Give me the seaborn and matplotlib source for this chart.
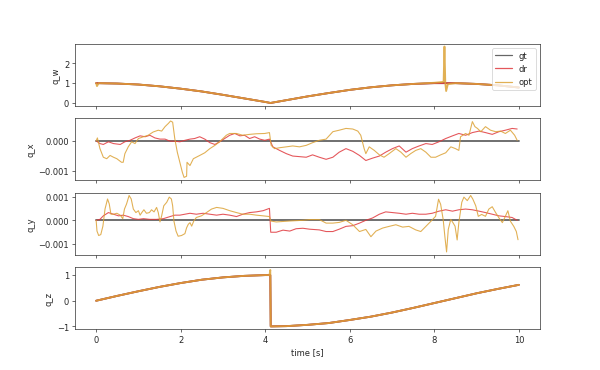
import matplotlib
matplotlib.use('Agg')
import matplotlib.pyplot as plt
import seaborn as sns
import numpy as np

sns.set_style('ticks')

t_wz = [0, 0.5, 1, 1.5, 2, 2.5, 3, 3.5, 4, 4.12, 4.13, 4.5, 5, 5.5, 6, 6.5, 7, 7.5, 8, 8.5, 9, 9.5, 10]
gt_w = [1.0, 0.98, 0.93, 0.84, 0.72, 0.58, 0.41, 0.23, 0.05, 0.0, 0.0, 0.14, 0.33, 0.5, 0.66, 0.79, 0.89, 0.96, 1.0, 1.0, 0.96, 0.89, 0.78]
gt_z = [0.0, 0.19, 0.37, 0.54, 0.69, 0.82, 0.91, 0.97, 1.0, 1.0, -1.0, -0.99, -0.94, -0.87, -0.75, -0.62, -0.46, -0.28, -0.09, 0.10, 0.29, 0.46, 0.62]
t_xy_gt = [0, 10]
gt_x = [0.0, 0.0]
gt_y = [0.0, 0.0]

# dead reckoning
dr_w = gt_w
dr_z = gt_z
t_dr_x = [0, 0.09, 0.17, 0.29, 0.41, 0.57, 0.68, 0.8, 0.92, 1.04, 1.16, 1.27, 1.39, 1.51, 1.63, 1.75,
          1.86, 1.98, 2.1, 2.22, 2.33, 2.45, 2.57, 2.69, 2.81, 2.92, 3.04, 3.16, 3.28, 3.4, 3.51, 3.63,
          3.75, 3.87, 3.99, 4.1, 4.18, 4.34, 4.5, 4.65, 4.81, 4.97, 5.12, 5.28, 5.44, 5.6, 5.75, 5.91,
          6.07, 6.23, 6.38, 6.54, 6.7, 6.85, 7.01, 7.17, 7.33, 7.48, 7.64, 7.8, 7.95, 8.11, 8.27, 8.43,
          8.58, 8.74, 8.9, 9.06, 9.21, 9.37, 9.53, 9.68, 9.84, 9.96]
dr_x = [0, -0.09, -0.12, -0.03, -0.09, -0.12, -0.03, 0.02, 0.1, 0.17, 0.14, 0.19, 0.1, 0.06, 0.06, -0.01,
        -0.01, -0.03, 0.02, 0.06, 0.08, 0.14, 0.06, -0.06, -0.12, -0.03, 0.08, 0.19, 0.25, 0.17, 0.19, 0.08,
        0.14, 0.06, 0.02, 0.06, -0.2, -0.32, -0.43, -0.51, -0.53, -0.55, -0.47, -0.55, -0.62, -0.55, -0.38, -0.26,
        -0.35, -0.49, -0.66, -0.58, -0.51, -0.38, -0.26, -0.17, -0.38, -0.26, -0.17, -0.09, -0.12, -0.03, 0.08, 0.17,
        0.25, 0.19, 0.28, 0.33, 0.28, 0.22, 0.31, 0.36, 0.42, 0.4]
t_dr_y = [0, 0.09, 0.17, 0.29, 0.41, 0.53, 0.64, 0.76, 0.88, 1.0, 1.12, 1.27, 1.43, 1.59, 1.75, 1.86,
          1.98, 2.1, 2.22, 2.37, 2.53, 2.69, 2.85, 3.0, 3.16, 3.32, 3.47, 3.63, 3.79, 3.95, 4.1, 4.13,
          4.26, 4.42, 4.58, 4.73, 4.89, 5.05, 5.28, 5.44, 5.6, 5.75, 5.91, 6.07, 6.23, 6.38, 6.54, 6.7,
          6.85, 7.01, 7.17, 7.33, 7.48, 7.64, 7.8, 7.95, 8.11, 8.27, 8.43, 8.58, 8.74, 8.9, 9.06, 9.21,
          9.37, 9.53, 9.68, 9.84, 9.96]
dr_y = [0, 0.04, 0.19, 0.33, 0.26, 0.19, 0.22, 0.16, 0.07, 0.04, 0.07, 0.04, 0.04, 0.07, 0.16, 0.22,
        0.22, 0.26, 0.3, 0.26, 0.3, 0.26, 0.22, 0.26, 0.22, 0.16, 0.26, 0.33, 0.36, 0.41, 0.51, -0.51,
        -0.51, -0.42, -0.46, -0.36, -0.34, -0.38, -0.41, -0.48, -0.48, -0.38, -0.26, -0.23, -0.12, 0.0, 0.1, 0.26,
        0.36, 0.33, 0.3, 0.26, 0.3, 0.26, 0.26, 0.3, 0.39, 0.45, 0.39, 0.45, 0.48, 0.45, 0.39, 0.33,
        0.26, 0.19, 0.16, 0.12, 0.0]

# optimised
t_opt_w = [0, 0.02, 0.06, 0.5, 1, 1.5, 2, 2.5, 3, 3.5, 4, 4.12, 4.5, 5, 5.5, 6, 6.5, 7, 7.5, 8, 8.2,
           8.22, 8.24, 8.26, 8.28, 8.32, 8.5, 9, 9.5, 10]
opt_w = [1.0, 0.85, 1.0, 0.98, 0.93, 0.84, 0.72, 0.58, 0.41, 0.23, 0.05, 0.0, 0.14, 0.33, 0.5, 0.66, 0.79, 0.89, 0.96, 1.02, 1.06,
         1.1, 2.85, 1.0, 0.6, 0.95, 1.0, 0.96, 0.89, 0.78]
t_opt_z = [0, 0.5, 1, 1.5, 2, 2.5, 3, 3.5, 4, 4.1, 4.12, 4.13, 4.2, 4.5, 5, 5.5, 6, 6.5, 7, 7.5, 8, 8.5, 9, 9.5, 10]
opt_z = [0.0, 0.19, 0.37, 0.54, 0.69, 0.82, 0.91, 0.97, 1.0, 1.0, 1.2, -1.0, -1.0, -0.99, -0.94, -0.87, -0.75, -0.62, -0.46, -0.28, -0.09, 0.10, 0.29, 0.46, 0.62]
t_opt_x = [0, 0.03, 0.09, 0.17, 0.25, 0.33, 0.41, 0.49, 0.6, 0.64, 0.68, 0.76, 0.84, 0.92, 1.0, 1.12,
           1.23, 1.35, 1.47, 1.55, 1.63, 1.71, 1.76, 1.81, 1.86, 1.92, 1.98, 2.04, 2.08, 2.14, 2.15, 2.22,
           2.3, 2.45, 2.57, 2.69, 2.81, 2.92, 3.0, 3.08, 3.16, 3.32, 3.47, 3.63, 3.79, 3.99, 4.1, 4.14,
           4.22, 4.34, 4.5, 4.65, 4.81, 4.97, 5.12, 5.28, 5.44, 5.6, 5.75, 5.91, 6.07, 6.19, 6.26, 6.34,
           6.38, 6.46, 6.58, 6.7, 6.81, 6.93, 7.09, 7.21, 7.33, 7.44, 7.56, 7.68, 7.8, 7.92, 8.03, 8.15,
           8.27, 8.39, 8.5, 8.58, 8.62, 8.74, 8.82, 8.9, 8.96, 9.02, 9.1, 9.21, 9.33, 9.45, 9.57, 9.68,
           9.8, 9.9, 9.96]
opt_x = [0, 0.1, -0.26, -0.55, -0.6, -0.49, -0.55, -0.6, -0.72, -0.72, -0.43, -0.2, -0.03, -0.09, 0.08, 0.14,
         0.19, 0.3, 0.36, 0.33, 0.48, 0.59, 0.67, 0.63, 0.08, -0.38, -0.72, -1.06, -1.23, -1.19, -0.72, -0.83,
         -0.6, -0.49, -0.4, -0.26, -0.15, -0.03, 0.08, 0.19, 0.25, 0.25, 0.19, 0.22, 0.24, 0.25, 0.28, -0.15,
         -0.26, -0.23, -0.2, -0.17, -0.2, -0.15, -0.06, 0.02, 0.06, 0.31, 0.36, 0.42, 0.4, 0.33, 0.19, -0.26,
         -0.43, -0.2, -0.32, -0.47, -0.55, -0.43, -0.26, -0.38, -0.55, -0.43, -0.32, -0.26, -0.38, -0.55, -0.55, -0.47,
         -0.4, -0.2, -0.26, -0.32, 0.14, 0.25, 0.19, 0.65, 0.48, 0.42, 0.31, 0.48, 0.36, 0.31, 0.33, 0.25,
         0.36, 0.19, 0.02]
t_opt_y = [0, 0.02, 0.06, 0.11, 0.16, 0.21, 0.27, 0.31, 0.35, 0.41, 0.49, 0.57, 0.63, 0.67, 0.72, 0.78,
           0.83, 0.88, 0.94, 1.0, 1.04, 1.08, 1.13, 1.19, 1.26, 1.31, 1.37, 1.43, 1.47, 1.51, 1.55, 1.6,
           1.67, 1.73, 1.78, 1.81, 1.84, 1.89, 1.94, 2.02, 2.1, 2.14, 2.18, 2.22, 2.26, 2.31, 2.37, 2.49,
           2.61, 2.73, 2.85, 3.0, 3.16, 3.32, 3.47, 3.63, 3.79, 3.95, 4.1, 4.13, 4.26, 4.58, 4.89, 5.05,
           5.28, 5.44, 5.6, 5.75, 5.91, 6.07, 6.23, 6.38, 6.5, 6.62, 6.78, 6.93, 7.09, 7.25, 7.4, 7.56,
           7.68, 7.8, 7.92, 8.03, 8.1, 8.15, 8.21, 8.25, 8.29, 8.33, 8.39, 8.44, 8.49, 8.54, 8.58, 8.65,
           8.7, 8.78, 8.86, 8.91, 8.98, 9.04, 9.12, 9.21, 9.29, 9.37, 9.45, 9.53, 9.61, 9.68, 9.74, 9.8,
           9.88, 9.94, 9.98]
opt_y = [0, -0.46, -0.65, -0.61, -0.25, 0.48, 0.91, 0.7, 0.26, 0.26, 0.3, 0.22, 0.07, 0.48, 0.7, 1.06,
         0.91, 0.48, 0.33, 0.41, 0.22, 0.33, 0.45, 0.3, 0.33, 0.45, 0.36, 0.55, 0.33, -0.07, 0.19, 0.62,
         0.77, 0.99, 0.91, 0.62, -0.03, -0.46, -0.68, -0.65, -0.57, -0.32, -0.17, -0.1, -0.25, -0.03, 0.12, 0.19,
         0.33, 0.48, 0.55, 0.51, 0.41, 0.33, 0.26, 0.26, 0.22, 0.19, 0.16, -0.03, -0.07, -0.03, 0.0, 0.03,
         0.03, -0.12, -0.12, -0.09, 0.0, -0.19, -0.48, -0.39, -0.7, -0.46, -0.33, -0.26, -0.19, -0.29, -0.26, -0.41,
         -0.48, -0.26, -0.04, 0.17, 0.9, 0.68, 0.03, -0.7, -1.35, -0.39, 0.04, -0.1, -0.25, -0.84, -0.1, 0.77,
         0.99, 0.84, 1.06, 0.91, 0.62, 0.17, 0.25, 0.17, 0.48, 0.58, 0.33, 0.1, -0.1, 0.17, 0.41, -0.04,
         -0.26, -0.48, -0.83]

gt_color = 'black'
dr_color = '#e0393e'
opt_color = '#dca236'

# name, gt, dr, opt, scale, estimate line width
panels = [
    ('q_w', (t_wz, gt_w), (t_wz, dr_w), (t_opt_w, opt_w), 1.0, 2.2),
    ('q_x', (t_xy_gt, gt_x), (t_dr_x, dr_x), (t_opt_x, opt_x), 1e-3, 1.3),
    ('q_y', (t_xy_gt, gt_y), (t_dr_y, dr_y), (t_opt_y, opt_y), 1e-3, 1.3),
    ('q_z', (t_wz, gt_z), (t_wz, dr_z), (t_opt_z, opt_z), 1.0, 2.2),
]

fig, axes = plt.subplots(4, 1, sharex=True, figsize=(10, 6.18), dpi=60)

for ax, (name, gt, dr, opt, scale, lw) in zip(axes, panels):
    sns.lineplot(x=gt[0], y=np.array(gt[1]) * scale, ax=ax, color=gt_color, lw=2.2, alpha=0.6,
                 label='gt', estimator=None, sort=False)
    sns.lineplot(x=dr[0], y=np.array(dr[1]) * scale, ax=ax, color=dr_color, lw=lw, alpha=0.85,
                 label='dr', estimator=None, sort=False)
    sns.lineplot(x=opt[0], y=np.array(opt[1]) * scale, ax=ax, color=opt_color, lw=lw, alpha=0.85,
                 label='opt', estimator=None, sort=False)
    ax.set_ylabel(name)
    if name != 'q_w':
        ax.get_legend().remove()

leg = axes[0].legend(loc='upper right')
for h in leg.get_lines():
    h.set_linewidth(1.5)
axes[1].set_yticks([-0.001, 0.0])
axes[2].set_yticks([-0.001, 0.0, 0.001])
axes[3].set_yticks([-1, 0, 1])
axes[0].set_yticks([0, 1, 2])
axes[-1].set_xticks([0, 2, 4, 6, 8, 10])
axes[-1].set_xlabel('time [s]')

plt.savefig('out.png')
